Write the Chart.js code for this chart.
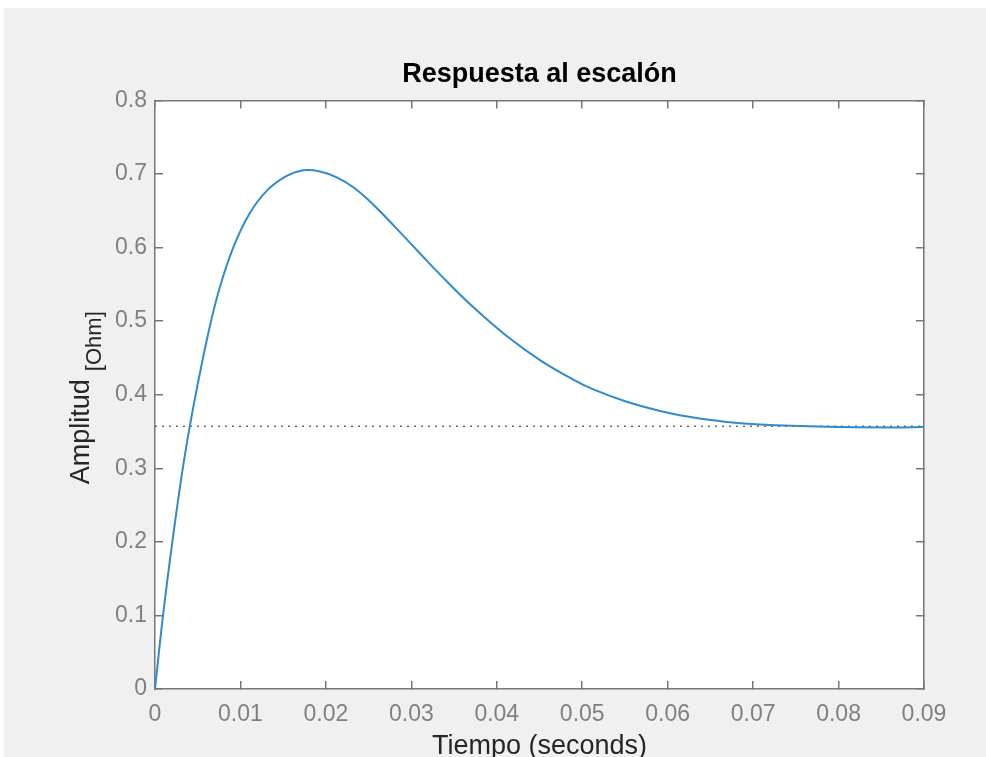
<!DOCTYPE html>
<html>
<head>
<meta charset="utf-8">
<title>Respuesta al escalón</title>
<script src="https://cdn.jsdelivr.net/npm/chart.js@4.4.1/dist/chart.umd.min.js"></script>
<style>
  html, body { margin: 0; padding: 0; background: #fff; overflow: hidden; }
  canvas { display: block; }
</style>
</head>
<body>
<canvas id="grafico" width="986" height="757"></canvas>
<script>
// datos (tiempo en s, amplitud en Ohm)
const tiempo = [0, 0.00094, 0.00203, 0.0032, 0.0041, 0.00496, 0.00632, 0.00749, 0.00905, 0.011,
  0.01315, 0.01541, 0.01736, 0.01931, 0.02127, 0.02321, 0.02516, 0.02712, 0.02906, 0.03102,
  0.0334, 0.0373, 0.0412, 0.0451, 0.049, 0.0513, 0.0552, 0.0591, 0.063, 0.0669,
  0.0708, 0.0786, 0.0864, 0.09];
const amplitud = [0, 0.1, 0.2, 0.296, 0.359, 0.412, 0.488, 0.542, 0.597, 0.645,
  0.678, 0.6975, 0.705, 0.7035, 0.6955, 0.682, 0.6626, 0.6399, 0.6162, 0.5919,
  0.5629, 0.5184, 0.4794, 0.4466, 0.4201, 0.4072, 0.3904, 0.3779, 0.3689, 0.363,
  0.3595, 0.3564, 0.3555, 0.3562];
const valorFinal = 0.357;
const ticksX = ["0", "0.01", "0.02", "0.03", "0.04", "0.05", "0.06", "0.07", "0.08", "0.09"];
const ticksY = ["0", "0.1", "0.2", "0.3", "0.4", "0.5", "0.6", "0.7", "0.8"];

const colorEje = "#777777";
const fuente = "'Liberation Sans', Arial, Helvetica, sans-serif";

const puntos = tiempo.map((t, i) => ({ x: t, y: amplitud[i] }));
const lineaFinal = [
  { x: tiempo[0], y: valorFinal },
  { x: tiempo[tiempo.length - 1], y: valorFinal }
];

// fondo gris de la figura y blanco del area de ejes
const fondo = {
  id: "fondo",
  beforeDraw(chart) {
    const { ctx, chartArea } = chart;
    ctx.save();
    ctx.fillStyle = "#f0f0f0";
    ctx.fillRect(4, 8, chart.width - 4, chart.height - 8);
    ctx.fillStyle = "#ffffff";
    ctx.fillRect(chartArea.left, chartArea.top, chartArea.right - chartArea.left, chartArea.bottom - chartArea.top);
    ctx.restore();
  }
};

// etiqueta del eje y con el subindice [Ohm]
const etiquetaY = {
  id: "etiquetaY",
  afterDraw(chart) {
    const { ctx, chartArea } = chart;
    const texto1 = "Amplitud";
    const texto2 = "[Ohm]";
    ctx.save();
    ctx.font = "27px " + fuente;
    const w1 = ctx.measureText(texto1).width;
    ctx.font = "22px " + fuente;
    const w2 = ctx.measureText(texto2).width;
    const hueco = 8;
    const total = w1 + hueco + w2;
    const centro = (chartArea.top + chartArea.bottom) / 2 + 3;
    ctx.translate(89, centro + total / 2);
    ctx.rotate(-Math.PI / 2);
    ctx.textBaseline = "alphabetic";
    ctx.textAlign = "left";
    ctx.fillStyle = "#262626";
    ctx.font = "27px " + fuente;
    ctx.fillText(texto1, 0, 0);
    ctx.font = "22px " + fuente;
    ctx.fillText(texto2, w1 + hueco, 12);
    ctx.restore();
  }
};

const ejeCaja = (pos) => ({
  type: "linear",
  position: pos,
  grid: { drawOnChartArea: false, drawTicks: true, tickLength: -8, color: colorEje, lineWidth: 1.5 },
  border: { display: true, color: colorEje, width: 1.5 },
  ticks: { display: false },
  afterFit(scale) {
    if (pos === "top") scale.height = 0;
    else scale.width = 0;
  }
});

new Chart(document.getElementById("grafico"), {
  type: "line",
  data: {
    datasets: [
      {
        data: puntos,
        borderColor: "#2f8ad0",
        borderWidth: 2,
        pointRadius: 0,
        tension: 0.4,
        xAxisID: "x",
        yAxisID: "y"
      },
      {
        data: lineaFinal,
        borderColor: "#6e6e6e",
        borderWidth: 1.5,
        borderDash: [2, 5],
        pointRadius: 0,
        xAxisID: "x",
        yAxisID: "y"
      }
    ]
  },
  options: {
    responsive: false,
    animation: false,
    devicePixelRatio: 1,
    layout: { padding: { left: 0, right: 62, top: 0, bottom: 0 } },
    plugins: {
      legend: { display: false },
      tooltip: { enabled: false },
      title: {
        display: true,
        fullSize: false,
        text: "Respuesta al escalón",
        color: "#000000",
        font: { family: fuente, size: 27, weight: "bold", lineHeight: 1.2 },
        padding: { top: 58, bottom: 10 }
      }
    },
    scales: {
      x: {
        type: "linear",
        position: "bottom",
        min: 0,
        max: 0.09,
        grid: { drawOnChartArea: false, drawTicks: true, tickLength: -8, color: colorEje, lineWidth: 1.5 },
        border: { display: true, color: colorEje, width: 1.5 },
        ticks: {
          stepSize: 0.01,
          color: "#808080",
          font: { family: fuente, size: 23 },
          padding: 20,
          maxRotation: 0,
          autoSkip: false,
          callback: (v, i) => ticksX[i]
        },
        title: {
          display: true,
          text: "Tiempo (seconds)",
          color: "#262626",
          font: { family: fuente, size: 27, lineHeight: 0.75 },
          padding: 0
        },
        afterFit(scale) { scale.height = 68; }
      },
      y: {
        type: "linear",
        position: "left",
        min: 0,
        max: 0.8,
        grid: { drawOnChartArea: false, drawTicks: true, tickLength: -8, color: colorEje, lineWidth: 1.5 },
        border: { display: true, color: colorEje, width: 1.5 },
        ticks: {
          stepSize: 0.1,
          color: "#808080",
          font: { family: fuente, size: 23 },
          padding: 16,
          callback: (v, i) => ticksY[i]
        },
        afterFit(scale) { scale.width = 155; }
      },
      xArriba: Object.assign(ejeCaja("top"), { min: 0, max: 0.09, ticks: { display: false, stepSize: 0.01 } }),
      yDerecha: Object.assign(ejeCaja("right"), { min: 0, max: 0.8, ticks: { display: false, stepSize: 0.1 } })
    }
  },
  plugins: [fondo, etiquetaY]
});
</script>
</body>
</html>
